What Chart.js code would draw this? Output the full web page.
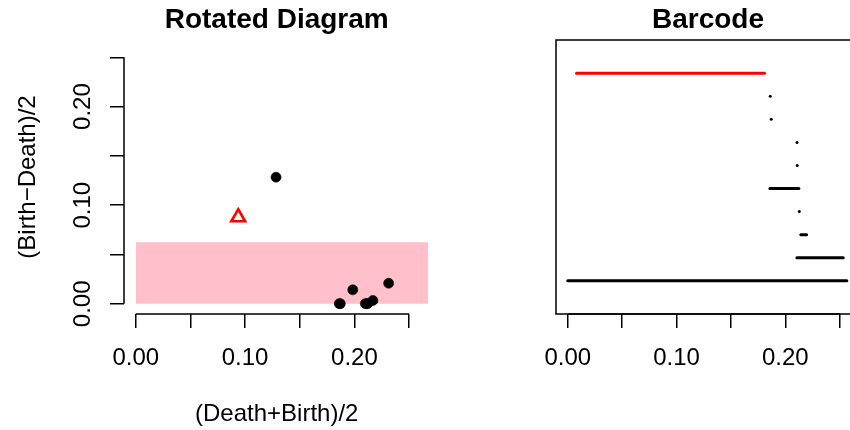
<!DOCTYPE html>
<html><head><meta charset="utf-8">
<script src="https://cdn.jsdelivr.net/npm/chart.js@4.4.1/dist/chart.umd.min.js"></script>
<style>
html,body{margin:0;padding:0;width:850px;height:430px;overflow:hidden;background:#fff;}
#c1{position:absolute;left:0;top:0;}
#c2{position:absolute;left:430px;top:0;}
</style></head><body>
<canvas id="c1" width="440" height="430"></canvas>
<canvas id="c2" width="440" height="430"></canvas>
<script>
// ---- data ----
const axisTicks = [0, 0.05, 0.10, 0.15, 0.20, 0.25];
const axisTickLabels = ['0.00', '', '0.10', '', '0.20', ''];

// Rotated diagram: dimension 0 (black dots)
const dim0X = [0.1283, 0.1862, 0.1871, 0.1985, 0.2100, 0.2110, 0.2120, 0.2169, 0.2313];
const dim0Y = [0.1284, 0.0002, 0.0002, 0.0142, 0.0002, 0.0002, 0.0002, 0.0034, 0.0209];
// Rotated diagram: dimension 1 (red triangle)
const dim1X = [0.0937];
const dim1Y = [0.0878];
// confidence band
const bandX = [0, 0.2675];
const bandTop = 0.0625;

// Barcode rows, top to bottom
const barBirth = [0.0081, 0.1861, 0.1870, 0.2107, 0.2109, 0.1858, 0.2128, 0.2142, 0.2106, 0.0000];
const barDeath = [0.1809, 0.1863, 0.1872, 0.2109, 0.2111, 0.2124, 0.2130, 0.2195, 0.2532, 0.2565];
const barDim   = [1, 0, 0, 0, 0, 0, 0, 0, 0, 0];

// ---- chart setup ----
const FONT = "'Liberation Sans', Arial, Helvetica, sans-serif";
Chart.defaults.font.family = FONT;
Chart.defaults.color = '#000';

function fixTicks(scale) { scale.ticks = axisTicks.map(v => ({ value: v })); }
const tickLabel = (v, i) => axisTickLabels[i];

const rAxes = {
  id: 'rAxes',
  afterDraw(chart, args, opts) {
    const { ctx, chartArea: a, scales } = chart;
    ctx.save();
    ctx.strokeStyle = '#000';
    ctx.lineWidth = 1.5;
    ctx.lineCap = 'butt';
    ctx.beginPath();
    const xs = scales.x;
    ctx.moveTo(xs.getPixelForValue(axisTicks[0]), a.bottom);
    ctx.lineTo(xs.getPixelForValue(axisTicks[axisTicks.length - 1]), a.bottom);
    if (opts.yAxis) {
      const ys = scales.y;
      ctx.moveTo(a.left, ys.getPixelForValue(axisTicks[0]));
      ctx.lineTo(a.left, ys.getPixelForValue(axisTicks[axisTicks.length - 1]));
    }
    ctx.stroke();
    if (opts.box) {
      ctx.strokeRect(a.left, a.top, a.right - a.left, a.bottom - a.top);
    }
    ctx.restore();
  }
};

const gridOpts = { display: true, drawOnChartArea: false, drawTicks: true, tickLength: 14, color: '#000', lineWidth: 1.5 };

function xScaleOpts(title) {
  return {
    type: 'linear', min: -0.0108, max: 0.2686, bounds: 'data',
    afterBuildTicks: fixTicks,
    afterFit: s => { s.height = 116; },
    grid: gridOpts,
    border: { display: false },
    ticks: { autoSkip: false, minRotation: 0, maxRotation: 0, padding: 16, font: { size: 24 }, color: '#000', callback: tickLabel },
    title: title ? { display: true, text: title, font: { size: 24 }, color: '#000', padding: { top: 0, bottom: 1.6 } } : { display: false }
  };
}

function titleOpts(text) {
  return { display: true, text: text, fullSize: false, color: '#000',
           font: { size: 28, weight: 'bold' }, padding: { top: 3.2, bottom: 3.2 } };
}

// Left: rotated diagram
new Chart(document.getElementById('c1'), {
  type: 'scatter',
  data: {
    datasets: [
      {
        data: dim1X.map((x, i) => ({ x: x, y: dim1Y[i] })),
        pointStyle: 'triangle', pointRadius: 8, borderWidth: 2.6,
        borderColor: '#FF0000', backgroundColor: 'rgba(0,0,0,0)'
      },
      {
        data: dim0X.map((x, i) => ({ x: x, y: dim0Y[i] })),
        pointStyle: 'circle', pointRadius: 5, borderWidth: 0.6,
        borderColor: '#000', backgroundColor: '#000'
      },
      {
        data: bandX.map(x => ({ x: x, y: bandTop })),
        showLine: true, borderWidth: 0, pointRadius: 0,
        borderColor: 'rgba(0,0,0,0)', backgroundColor: '#FFC0CB', fill: 'origin'
      }
    ]
  },
  options: {
    responsive: false, animation: false, events: [],
    devicePixelRatio: 1,
    layout: { padding: { left: 0, right: 4, top: 0, bottom: 0 } },
    plugins: {
      legend: { display: false }, tooltip: { enabled: false },
      title: titleOpts('Rotated Diagram'),
      rAxes: { yAxis: true, box: false }
    },
    scales: {
      x: xScaleOpts('(Death+Birth)/2'),
      y: {
        type: 'linear', min: -0.0103, max: 0.2675, bounds: 'data',
        afterBuildTicks: fixTicks,
        afterFit: s => { s.width = 124; },
        grid: gridOpts,
        border: { display: false },
        ticks: { autoSkip: false, minRotation: 90, maxRotation: 90, crossAlign: 'center', padding: 3.4,
                 font: { size: 24 }, color: '#000', callback: tickLabel },
        title: { display: true, text: '(Birth\u2212Death)/2', font: { size: 24 }, color: '#000', padding: { top: 13.6, bottom: 0 } }
      }
    }
  },
  plugins: [rAxes]
});

// Right: barcode
const nBars = barBirth.length;
new Chart(document.getElementById('c2'), {
  type: 'scatter',
  data: {
    datasets: barBirth.map((b, i) => ({
      data: [{ x: b, y: nBars - i }, { x: barDeath[i], y: nBars - i }],
      showLine: true, pointRadius: 0, borderWidth: 3, borderCapStyle: 'round',
      borderColor: barDim[i] === 1 ? '#FF0000' : '#000000', fill: false
    }))
  },
  options: {
    responsive: false, animation: false, events: [],
    devicePixelRatio: 1,
    layout: { padding: { left: 126, right: 10, top: 0, bottom: 0 } },
    plugins: {
      legend: { display: false }, tooltip: { enabled: false },
      title: titleOpts('Barcode'),
      rAxes: { yAxis: false, box: true }
    },
    scales: {
      x: xScaleOpts(null),
      y: { type: 'linear', display: false, min: -0.44, max: nBars + 1.44 }
    }
  },
  plugins: [rAxes]
});
</script>
</body></html>
